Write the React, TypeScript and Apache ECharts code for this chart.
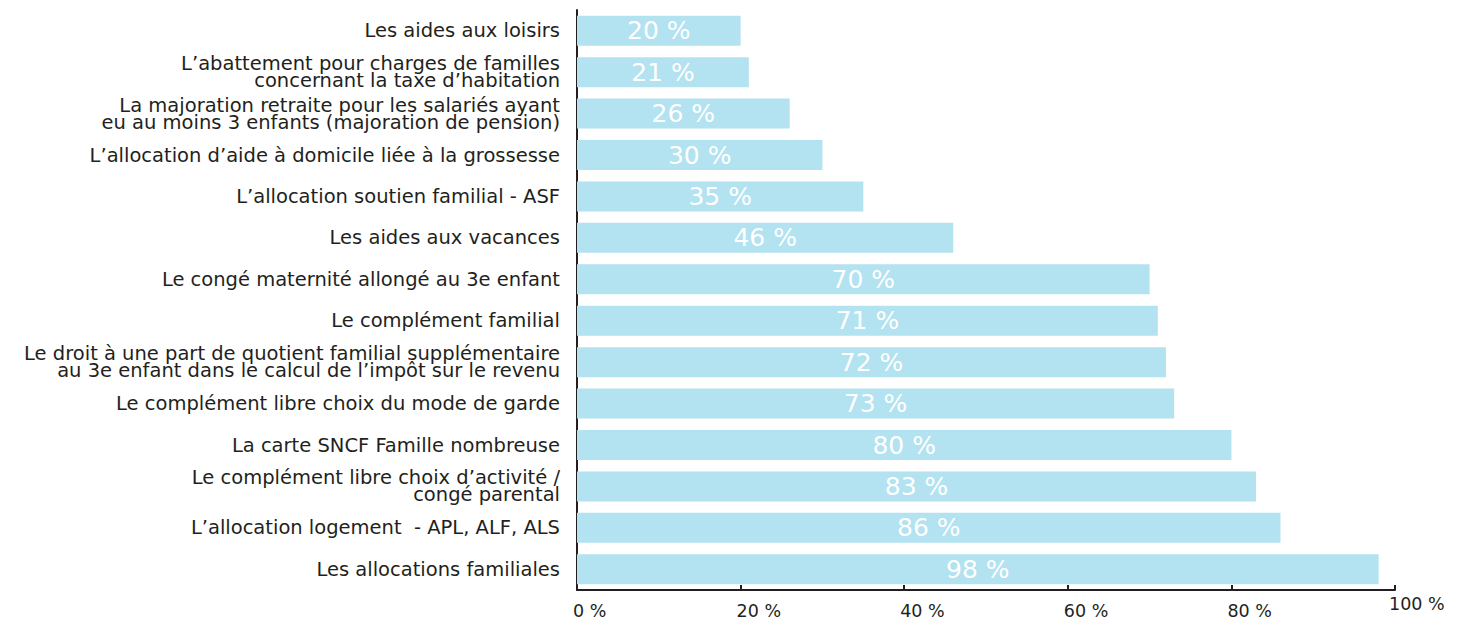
import React, { useEffect, useRef } from "react";
import * as echarts from "echarts";

const categories: string[] = [
  "Les aides aux loisirs",
  "L’abattement pour charges de familles\nconcernant la taxe d’habitation",
  "La majoration retraite pour les salariés ayant\neu au moins 3 enfants (majoration de pension)",
  "L’allocation d’aide à domicile liée à la grossesse",
  "L’allocation soutien familial - ASF",
  "Les aides aux vacances",
  "Le congé maternité allongé au 3e enfant",
  "Le complément familial",
  "Le droit à une part de quotient familial supplémentaire\nau 3e enfant dans le calcul de l’impôt sur le revenu",
  "Le complément libre choix du mode de garde",
  "La carte SNCF Famille nombreuse",
  "Le complément libre choix d’activité /\ncongé parental",
  "L’allocation logement  - APL, ALF, ALS",
  "Les allocations familiales",
];

const values: number[] = [20, 21, 26, 30, 35, 46, 70, 71, 72, 73, 80, 83, 86, 98];

const xTicks: number[] = [0, 20, 40, 60, 80, 100];

const FONT = "'DejaVu Sans', sans-serif";
const DARK = "#231f20";

export default function App() {
  const ref = useRef<HTMLDivElement>(null);
  useEffect(() => {
    if (!ref.current) return;
    const chart = echarts.init(ref.current, undefined, { renderer: "svg" });
    chart.setOption({
      animation: false,
      backgroundColor: "#ffffff",
      grid: {
        left: 577,
        top: 10,
        width: 818,
        height: 580,
        containLabel: false,
        outerBoundsMode: "none",
      },
      xAxis: {
        type: "value",
        min: xTicks[0],
        max: xTicks[xTicks.length - 1],
        interval: 20,
        splitLine: { show: false },
        axisLine: { show: true, lineStyle: { color: DARK, width: 2 } },
        axisTick: { show: true, inside: true, length: 5, lineStyle: { color: DARK, width: 2 } },
        axisLabel: {
          margin: 21,
          align: "left",
          verticalAlign: "middle",
          color: DARK,
          fontFamily: FONT,
          fontSize: 17.5,
          lineHeight: 16,
          formatter: (v: number) => (v === 100 ? `{hi|${v} %}` : `{n|${v} %}`),
          rich: {
            n: { fontFamily: FONT, fontSize: 17.5, color: DARK, lineHeight: 16, padding: [0, 0, 0, -4] },
            hi: { fontFamily: FONT, fontSize: 17.5, color: DARK, lineHeight: 16, padding: [0, 0, 14, -6] },
          },
        },
      },
      yAxis: {
        type: "category",
        data: categories,
        inverse: true,
        axisLine: { show: true, lineStyle: { color: DARK, width: 2 } },
        axisTick: { show: false },
        axisLabel: {
          margin: 17,
          color: DARK,
          fontFamily: FONT,
          fontSize: 19.5,
          lineHeight: 17,
          align: "right",
        },
      },
      series: [
        {
          type: "bar",
          data: values,
          barWidth: 30,
          itemStyle: { color: "#b3e2f0" },
          label: {
            show: true,
            position: "inside",
            formatter: "{c} %",
            color: "#ffffff",
            fontFamily: FONT,
            fontSize: 25,
          },
        },
      ],
    });
    return () => chart.dispose();
  }, []);
  return (
    <div
      ref={ref}
      style={{ position: "fixed", left: 0, top: 0, width: 1463, height: 621 }}
    />
  );
}
